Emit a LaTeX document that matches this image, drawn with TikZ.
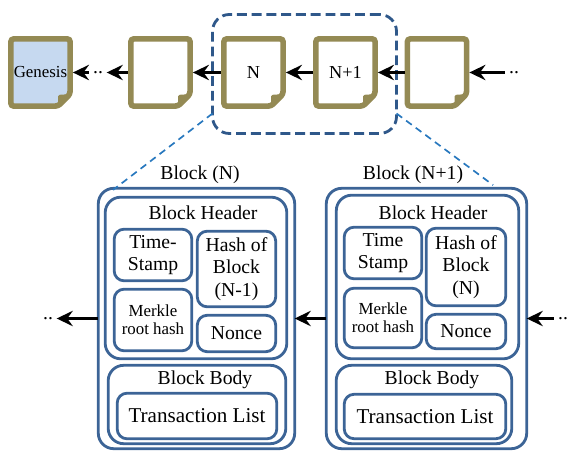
\documentclass[tikz,border=0pt]{standalone}
\usepackage{fontspec}
\setmainfont{Liberation Serif}
\usepackage{tikz}
\usetikzlibrary{shapes, arrows.meta, positioning, calc, backgrounds}

\definecolor{docolive}{RGB}{148,138,84}
\definecolor{genblue}{RGB}{198,217,240}
\definecolor{boxblue}{RGB}{60,100,150}
\definecolor{zoomblue}{RGB}{47,88,138}
\definecolor{linkblue}{RGB}{40,120,190}

\begin{document}
\begin{tikzpicture}
  [
    Doc/.style={rectangle, outer sep=0.07cm, minimum width=1.48cm, minimum height=1.68cm, inner sep=0, font=\fontsize{13}{15}\selectfont},
    Docline/.style={draw=docolive, line width=0.14cm, rounded corners=2pt},
    Zoom/.style={draw=zoomblue, line width=2pt, dash pattern=on 7pt off 3.5pt, rounded corners=12pt, outer sep=0, inner sep=0},
    Outer/.style={draw=boxblue, line width=2pt, rounded corners=11pt, outer sep=0, inner sep=0},
    Inner/.style={draw=boxblue, line width=2pt, rounded corners=7pt, outer sep=0, inner sep=0, align=center, font=\fontsize{14}{16}\selectfont},
    Label/.style={inner sep=0, font=\fontsize{14}{16}\selectfont},
    Dots/.style={inner sep=2.5pt, font=\fontsize{14}{16}\selectfont},
    Link/.style={draw, line width=1.5pt, {Stealth[length=11.5pt, width=11pt, inset=4pt]}-},
    Zoomline/.style={draw=linkblue, line width=1.2pt, dash pattern=on 5pt off 3.5pt}
  ]
  \useasboundingbox (0,0) rectangle (14.2,-11.325);

  % Chain (x, y)
  \node[Doc, font=\fontsize{12}{14}\selectfont] (gen) at(1.0125, -1.8125) {Genesis};
  \node[Dots] (dotsA) at(2.45, -1.8125) {..};
  \node[Doc] (doc2) at(4.0125, -1.8125) {};
  \node[Doc] (docN) at(6.3375, -1.8125) {N};
  \node[Doc] (docN1) at(8.6375, -1.8125) {N+1};
  \node[Doc] (docL) at(10.925, -1.8125) {};
  \node[Dots] (dotsB) at(12.85, -1.8125) {..};
  % page outlines with folded corner
  \begin{scope}[on background layer]
    \foreach \d/\f in {gen/genblue, doc2/white, docN/white, docN1/white, docL/white} {
      \filldraw[Docline, fill=\f] ($(\d.north west)+(0.07,-0.07)$) -- ($(\d.north east)+(-0.07,-0.07)$)
        -- ($(\d.south east)+(-0.07,0.37)$) -- ($(\d.south east)+(-0.37,0.07)$)
        -- ($(\d.south west)+(0.07,0.07)$) -- cycle;
      \fill[docolive, rounded corners=1pt] ($(\d.south east)+(-0.07,0.37)$) -- ($(\d.south east)+(-0.37,0.07)$)
        -- ($(\d.south east)+(-0.37,0.35)$) -- cycle;
    }
  \end{scope}

  \node[Zoom, minimum width=4.6cm, minimum height=2.975cm] (zoom) at(7.6125, -1.85) {};

  % Block (N)
  \node[Outer, minimum width=4.91cm, minimum height=6.51cm] (blkN) at(4.9125, -7.9625) {};
  \node[Label] at(5.0, -4.375) {Block (N)};
  \node[Outer, minimum width=4.54cm, minimum height=4.04cm] (headN) at(4.9, -6.95) {};
  \node[Label] at(5.075, -5.325) {Block Header};
  \node[Inner, minimum width=1.94cm, minimum height=1.29cm] (timeN) at(3.825, -6.375) {Time-\\Stamp};
  \node[Inner, minimum width=1.96cm, minimum height=1.89cm] (hashN) at(5.9125, -6.725) {Hash of\\Block\\(N-1)};
  \node[Inner, minimum width=1.94cm, minimum height=1.54cm, font=\fontsize{12}{13}\selectfont] (merkN) at(3.825, -8.0) {Merkle\\root hash};
  \node[Inner, minimum width=1.96cm, minimum height=0.91cm] (nonceN) at(5.9125, -8.3375) {Nonce};
  \node[Outer, minimum width=4.44cm, minimum height=1.96cm] (bodyN) at(4.925, -10.1125) {};
  \node[Label] at(5.125, -9.5) {Block Body};
  \node[Inner, minimum width=3.99cm, minimum height=1.14cm, font=\fontsize{15}{17}\selectfont] (txN) at(4.925, -10.4) {Transaction List};

  % Block (N+1)
  \node[Outer, minimum width=5.01cm, minimum height=6.51cm] (blkN1) at(10.6625, -7.9625) {};
  \node[Label] at(10.325, -4.375) {Block (N+1)};
  \node[Outer, minimum width=4.56cm, minimum height=4.09cm] (headN1) at(10.6875, -6.925) {};
  \node[Label] at(10.825, -5.325) {Block Header};
  \node[Inner, minimum width=1.94cm, minimum height=1.29cm] (timeN1) at(9.575, -6.325) {Time\\Stamp};
  \node[Inner, minimum width=1.99cm, minimum height=1.94cm] (hashN1) at(11.65, -6.675) {Hash of\\Block\\(N)};
  \node[Inner, minimum width=1.94cm, minimum height=1.49cm, font=\fontsize{12}{13}\selectfont] (merkN1) at(9.575, -7.95) {Merkle\\root hash};
  \node[Inner, minimum width=1.99cm, minimum height=0.86cm] (nonceN1) at(11.65, -8.2875) {Nonce};
  \node[Outer, minimum width=4.39cm, minimum height=1.96cm] (bodyN1) at(10.6, -10.1125) {};
  \node[Label] at(10.8, -9.5) {Block Body};
  \node[Inner, minimum width=4.04cm, minimum height=1.11cm, font=\fontsize{15}{17}\selectfont] (txN1) at(10.625, -10.4125) {Transaction List};

  \node[Dots] (dotsC) at(1.2, -7.9625) {..};
  \node[Dots] (dotsD) at(14.075, -7.9625) {..};

  % Lines
  % chain links
  \path [Link] (gen) -- (dotsA);
  \path [Link] (dotsA) -- (doc2);
  \path [Link] (doc2) -- (docN);
  \path [Link] (docN) -- (docN1);
  \path [Link] (docN1) -- (docL);
  \path [Link] (docL) -- (dotsB);
  % block links
  \path [Link] (dotsC) -- (blkN);
  \path [Link] (blkN) -- (blkN1);
  \path [Link] (blkN1) -- (dotsD);
  % zoom out
  \path [Zoomline] ($(zoom.south west)+(0,0.5)$) -- ($(blkN.north west)+(0.37,-0.04)$);
  \path [Zoomline] ($(zoom.south east)+(0,0.5)$) -- ($(blkN1.north east)+(-0.84,0.08)$);

\end{tikzpicture}
\end{document}
